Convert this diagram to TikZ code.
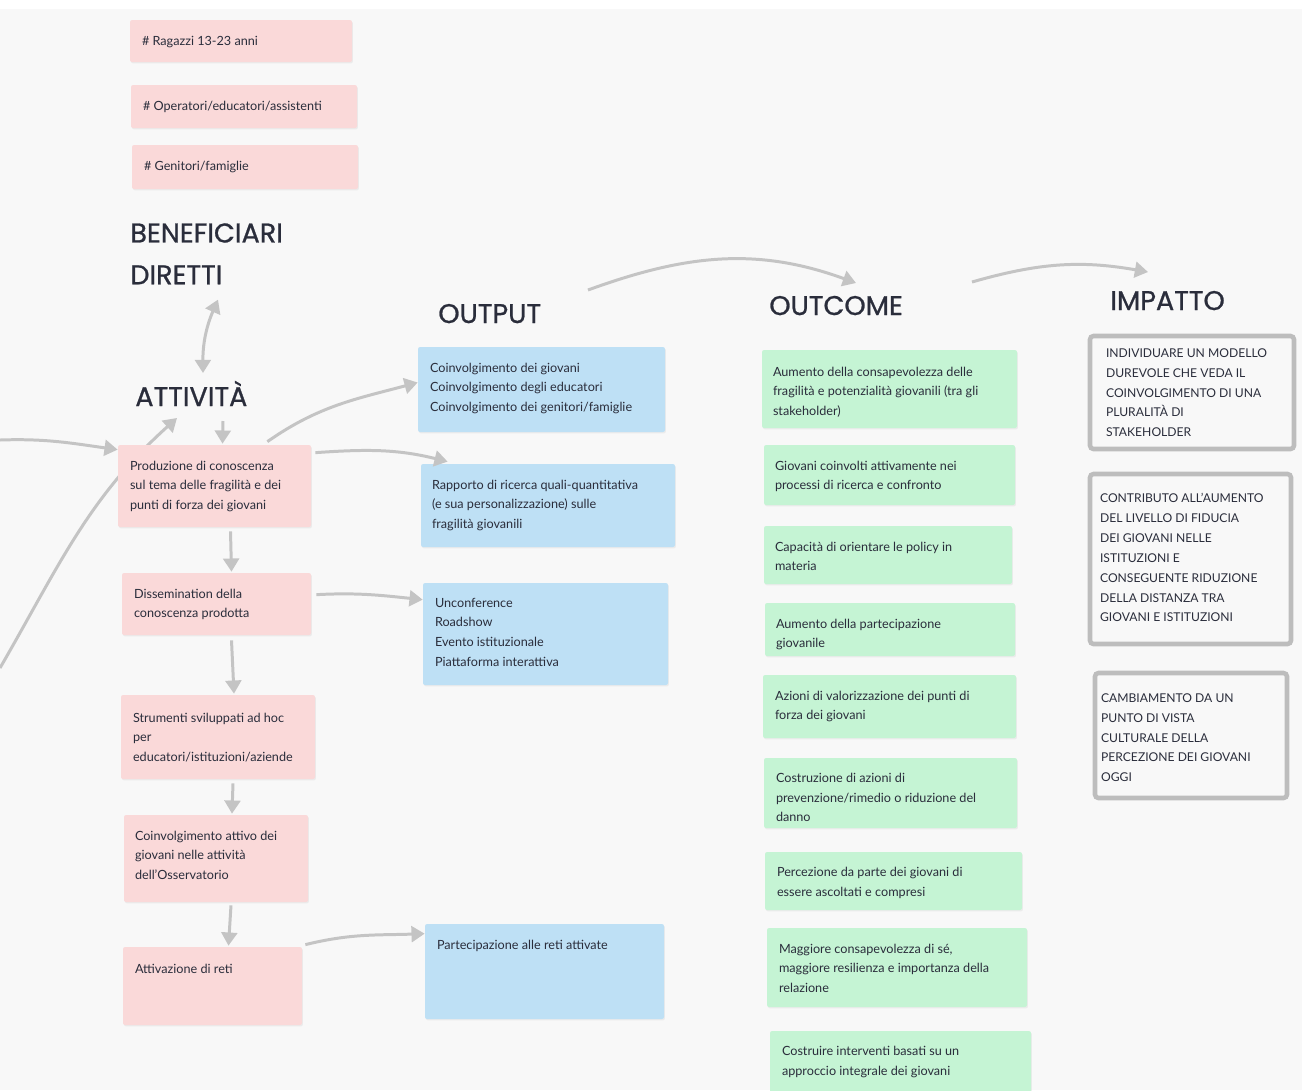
\documentclass[tikz,border=0pt]{standalone}
\usepackage{fontspec}
\setmainfont{Lato}
\newfontfamily\headfont{Poppins}[RawFeature={embolden=0.9}]
\usetikzlibrary{arrows.meta,calc,fit,shadows}

\definecolor{paper}{HTML}{F8F8F8}
\definecolor{pinkfill}{HTML}{FAD9D9}
\definecolor{bluefill}{HTML}{BEE0F5}
\definecolor{greenfill}{HTML}{C5F4D4}
\definecolor{ink}{HTML}{2A2D3B}
\definecolor{wire}{HTML}{C4C4C4}
\definecolor{frame}{HTML}{BDBDBD}

% fixed height for the first line of every text block
\newcommand\lineopen{\rule{0pt}{6pt}}

\begin{document}
\begin{tikzpicture}[x=0.02cm,y=-0.02cm,
  card/.style={rectangle,inner sep=0pt,rounded corners=1.2pt,
    drop shadow={shadow xshift=0.5pt,shadow yshift=-0.8pt,opacity=0.10}},
  act/.style={card,fill=pinkfill},
  res/.style={card,fill=bluefill},
  eff/.style={card,fill=greenfill},
  imp/.style={rectangle,inner sep=0pt,rounded corners=2pt,draw=frame,
    line width=2.6pt,fill=paper},
  txt/.style={inner sep=0pt,anchor=north west,align=left,text=ink,yshift=-1.1pt,
    font=\fontsize{7.2}{11.1}\selectfont,execute at begin node=\lineopen},
  captxt/.style={txt,font=\fontsize{6.9}{11.3}\selectfont},
  head/.style={inner sep=0pt,text=ink,font=\headfont\fontsize{15.4}{23.8}\selectfont},
  flow/.style={draw=wire,line width=1.7pt,-{Triangle[length=7.5pt,width=9pt]}},
  both/.style={draw=wire,line width=1.7pt,
    {Triangle[length=7.5pt,width=9pt]}-{Triangle[length=7.5pt,width=9pt]}}
]
% canvas
\fill[paper] (0,0) rectangle (1302,1090);
\fill[white] (0,0) rectangle (1302,9);
\useasboundingbox (0,0) rectangle (1302,1090);

% ---------- direct beneficiaries ----------
\node[act,fit={(130,20)(352,62)}] (ben1) {};
\node[txt] at ($(ben1.north west)+(12,13.5)$) {\# Ragazzi 13-23 anni};
\node[act,fit={(131,85)(357,128)}] (ben2) {};
\node[txt] at ($(ben2.north west)+(12,13.5)$) {\# Operatori/educatori/assistenti};
\node[act,fit={(132,145)(358,189)}] (ben3) {};
\node[txt] at ($(ben3.north west)+(12,13.5)$) {\# Genitori/famiglie};

% ---------- headings ----------
\node[head,anchor=north west,align=left] (benef) at (130,223) {BENEFICIARI\\DIRETTI};
\node[head,anchor=base west] (attiv) at (135,406) {ATTIVITÀ};
\node[head,anchor=base west] (outh) at (438,323) {OUTPUT};
\node[head,anchor=base west] (outc) at (769,315) {OUTCOME};
\node[head,anchor=base west] (imph) at (1110,310) {IMPATTO};

% long feedback curve, passing behind the first activity card
\coordinate (fromfar) at (0,668);
\draw[flow] (fromfar) to[out=60,in=222] ($(attiv.base west)+(42,12)$);

% ---------- activities ----------
\node[act,fit={(118,445)(311,527)}] (act1) {};
\node[txt] at ($(act1.north west)+(12,14)$) {Produzione di conoscenza\\sul tema delle fragilità e dei\\punti di forza dei giovani};
\node[act,fit={(122,573)(311,635)}] (act2) {};
\node[txt] at ($(act2.north west)+(12,14)$) {Dissemination della\\conoscenza prodotta};
\node[act,fit={(121,695)(315,779)}] (act3) {};
\node[txt] at ($(act3.north west)+(12,16)$) {Strumenti sviluppati ad hoc\\per\\educatori/istituzioni/aziende};
\node[act,fit={(124,815)(308,902)}] (act4) {};
\node[txt] at ($(act4.north west)+(11,14)$) {Coinvolgimento attivo dei\\giovani nelle attività\\dell'Osservatorio};
\node[act,fit={(123,947)(302,1025)}] (act5) {};
\node[txt] at ($(act5.north west)+(12,14)$) {Attivazione di reti};

% ---------- outputs ----------
\node[res,fit={(418,347)(665,432)}] (out1) {};
\node[txt] at ($(out1.north west)+(12,14)$) {Coinvolgimento dei giovani\\Coinvolgimento degli educatori\\Coinvolgimento dei genitori/famiglie};
\node[res,fit={(421,464)(675,547)}] (out2) {};
\node[txt] at ($(out2.north west)+(11,14)$) {Rapporto di ricerca quali-quantitativa\\(e sua personalizzazione) sulle\\fragilità giovanili};
\node[res,fit={(423,583)(668,685)}] (out3) {};
\node[txt,font=\fontsize{7.2}{11.3}\selectfont] at ($(out3.north west)+(12,13)$) {Unconference\\Roadshow\\Evento istituzionale\\Piattaforma interattiva};
\node[res,fit={(425,924)(664,1019)}] (out4) {};
\node[txt] at ($(out4.north west)+(12,13)$) {Partecipazione alle reti attivate};

% ---------- outcomes ----------
\node[eff,fit={(762,350)(1017,428)}] (oc1) {};
\node[txt] at ($(oc1.north west)+(11,15)$) {Aumento della consapevolezza delle\\fragilità e potenzialità giovanili (tra gli\\stakeholder)};
\node[eff,fit={(764,445)(1015,505)}] (oc2) {};
\node[txt] at ($(oc2.north west)+(11,14)$) {Giovani coinvolti attivamente nei\\processi di ricerca e confronto};
\node[eff,fit={(764,526)(1012,584)}] (oc3) {};
\node[txt] at ($(oc3.north west)+(11,14)$) {Capacità di orientare le policy in\\materia};
\node[eff,fit={(765,603)(1015,656)}] (oc4) {};
\node[txt] at ($(oc4.north west)+(11,14)$) {Aumento della partecipazione\\giovanile};
\node[eff,fit={(763,675)(1016,738)}] (oc5) {};
\node[txt] at ($(oc5.north west)+(12,14)$) {Azioni di valorizzazione dei punti di\\forza dei giovani};
\node[eff,fit={(764,758)(1017,828)}] (oc6) {};
\node[txt] at ($(oc6.north west)+(12,13.5)$) {Costruzione di azioni di\\prevenzione/rimedio o riduzione del\\danno};
\node[eff,fit={(765,852)(1022,910)}] (oc7) {};
\node[txt] at ($(oc7.north west)+(12,13.5)$) {Percezione da parte dei giovani di\\essere ascoltati e compresi};
\node[eff,fit={(767,928)(1027,1007)}] (oc8) {};
\node[txt] at ($(oc8.north west)+(12,14)$) {Maggiore consapevolezza di sé,\\maggiore resilienza e importanza della\\relazione};
\node[eff,fit={(770,1031)(1031,1096)}] (oc9) {};
\node[txt] at ($(oc9.north west)+(12,13.5)$) {Costruire interventi basati su un\\approccio integrale dei giovani};

% ---------- impact ----------
\node[imp,fit={(1090,336)(1294,449)}] (imp1) {};
\node[captxt] at ($(imp1.north west)+(18,12.5)$) {INDIVIDUARE UN MODELLO\\DUREVOLE CHE VEDA IL\\COINVOLGIMENTO DI UNA\\PLURALITÀ DI\\STAKEHOLDER};
\node[imp,fit={(1090,474)(1291,644)}] (imp2) {};
\node[captxt] at ($(imp2.north west)+(12,19.5)$) {CONTRIBUTO ALL'AUMENTO\\DEL LIVELLO DI FIDUCIA\\DEI GIOVANI NELLE\\ISTITUZIONI E\\CONSEGUENTE RIDUZIONE\\DELLA DISTANZA TRA\\GIOVANI E ISTITUZIONI};
\node[imp,fit={(1095,673)(1287,798)}] (imp3) {};
\node[captxt] at ($(imp3.north west)+(8,20.5)$) {CAMBIAMENTO DA UN\\PUNTO DI VISTA\\CULTURALE DELLA\\PERCEZIONE DEI GIOVANI\\OGGI};

% ---------- connectors ----------
\coordinate (fromleft) at (0,440);

\draw[both] ($(benef.south west)+(88,15)$) to[bend right=12] ($(attiv.base west)+(68,-33)$);
\draw[flow] ($(attiv.base west)+(88,15)$) -- ($(act1.north)+(8,-1)$);
\draw[flow] (fromleft) to[out=2,in=172] ($(act1.north west)+(0,5)$);

\draw[flow] ($(act1.north east)+(-44,-3)$) to[out=35,in=195] ($(out1.west)+(0,-7)$);
\draw[flow] ($(act1.north east)+(4,8)$) to[out=4,in=166] ($(out2.north west)+(27,-2)$);
\draw[flow] ($(act2.north east)+(5,22)$) to[out=3,in=174] ($(out3.north west)+(0,17)$);
\draw[flow] ($(act5.north east)+(3,-2)$) to[out=14,in=182] ($(out4.north west)+(0,10)$);

\draw[flow] ($(act1.south)+(16,4)$) -- ($(act2.north)+(15,-1)$);
\draw[flow] ($(act2.south)+(15,5)$) -- ($(act3.north)+(16,-1)$);
\draw[flow] ($(act3.south)+(15,4)$) -- ($(act4.north)+(16,-1)$);
\draw[flow] ($(act4.south)+(15,3)$) -- ($(act5.north)+(16,-1)$);

\draw[flow] ($(outh.base west)+(150,-33)$) to[out=20,in=160] ($(outc.base west)+(87,-32)$);
\draw[flow] ($(outc.base west)+(203,-33)$) to[out=16,in=170] ($(imph.base west)+(38,-38)$);
\end{tikzpicture}
\end{document}
